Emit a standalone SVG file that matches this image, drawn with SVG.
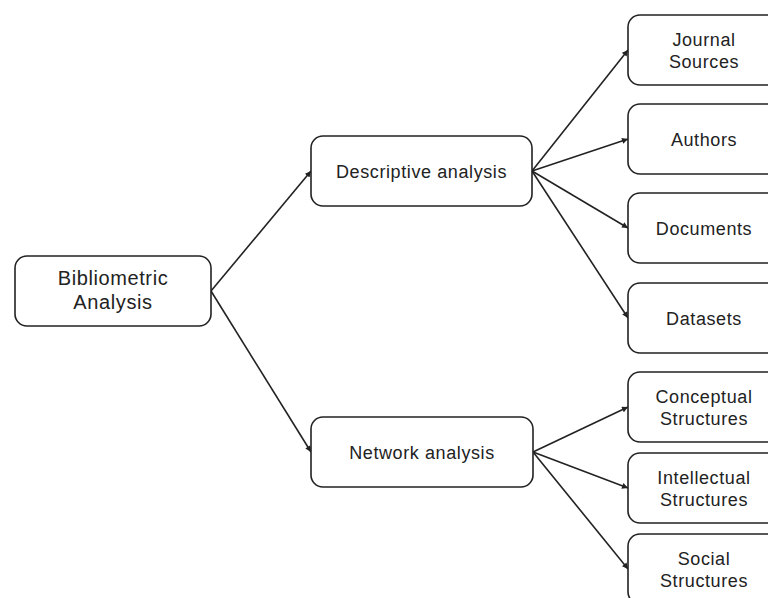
<svg xmlns="http://www.w3.org/2000/svg" width="768" height="598" viewBox="0 0 768 598">
<defs>
<style>
.box{fill:#fff;stroke:#222;stroke-width:1.6}
.t{font-family:"Liberation Sans",Arial,sans-serif;font-size:18px;fill:#222;text-anchor:middle;letter-spacing:0.6px}
.big{font-size:20px}
.edge{stroke:#222;stroke-width:1.6;fill:none;marker-end:url(#ah)}
</style>
<marker id="ah" viewBox="0 0 10 10" refX="10" refY="5" markerWidth="7" markerHeight="6" markerUnits="userSpaceOnUse" orient="auto">
<path d="M0,0 L10,5 L0,10 z" fill="#222"/>
</marker>
</defs>
<rect width="768" height="598" fill="#fff"/>
<g id="connectors">
<line class="edge" x1="211" y1="291" x2="311" y2="171"/>
<line class="edge" x1="211" y1="291" x2="311" y2="452"/>
<line class="edge" x1="532" y1="171" x2="628" y2="50"/>
<line class="edge" x1="532" y1="171" x2="628" y2="139"/>
<line class="edge" x1="532" y1="171" x2="628" y2="228"/>
<line class="edge" x1="532" y1="171" x2="628" y2="318"/>
<line class="edge" x1="533" y1="452" x2="628" y2="407"/>
<line class="edge" x1="533" y1="452" x2="628" y2="488"/>
<line class="edge" x1="533" y1="452" x2="628" y2="569"/>
</g>
<g id="bibliometric">
<rect class="box" x="15" y="256" width="196" height="70" rx="12"/>
<text class="t big" x="113" y="285">Bibliometric</text>
<text class="t big" x="113" y="309">Analysis</text>
</g>
<g id="descriptive">
<rect class="box" x="311" y="136" width="221" height="70" rx="12"/>
<text class="t" x="421.5" y="177.5">Descriptive analysis</text>
</g>
<g id="network">
<rect class="box" x="311" y="417" width="222" height="70" rx="12"/>
<text class="t" x="422" y="458.5">Network analysis</text>
</g>
<g id="journal">
<rect class="box" x="628" y="15" width="152" height="70" rx="12"/>
<text class="t" x="704" y="46">Journal</text>
<text class="t" x="704" y="68">Sources</text>
</g>
<g id="authors">
<rect class="box" x="628" y="104" width="152" height="70" rx="12"/>
<text class="t" x="704" y="145.5">Authors</text>
</g>
<g id="documents">
<rect class="box" x="628" y="193" width="152" height="70" rx="12"/>
<text class="t" x="704" y="235">Documents</text>
</g>
<g id="datasets">
<rect class="box" x="628" y="283" width="152" height="70" rx="12"/>
<text class="t" x="704" y="324.5">Datasets</text>
</g>
<g id="conceptual">
<rect class="box" x="628" y="372" width="152" height="70" rx="12"/>
<text class="t" x="704" y="403">Conceptual</text>
<text class="t" x="704" y="425">Structures</text>
</g>
<g id="intellectual">
<rect class="box" x="628" y="453" width="152" height="70" rx="12"/>
<text class="t" x="704" y="484">Intellectual</text>
<text class="t" x="704" y="506">Structures</text>
</g>
<g id="social">
<rect class="box" x="628" y="534" width="152" height="70" rx="12"/>
<text class="t" x="704" y="565">Social</text>
<text class="t" x="704" y="587">Structures</text>
</g>
</svg>
